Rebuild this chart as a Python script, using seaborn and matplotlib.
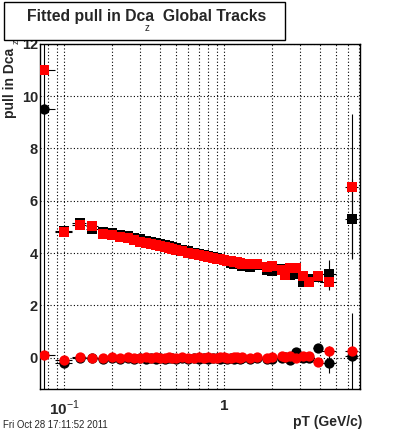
import numpy as np
import pandas as pd
import matplotlib
matplotlib.use("Agg")
import matplotlib.pyplot as plt
import seaborn as sns
from matplotlib.patches import Rectangle
from matplotlib.ticker import FixedLocator, NullFormatter, MultipleLocator, LogLocator

# pT bin centres and half widths
pt = [0.075, 0.1, 0.125, 0.15,
      0.175, 0.2, 0.225, 0.25, 0.275, 0.3, 0.325, 0.35, 0.375, 0.4, 0.425, 0.45, 0.475, 0.5,
      0.55, 0.6, 0.65, 0.7, 0.75, 0.8, 0.85, 0.9, 0.95, 1.0, 1.05, 1.1, 1.15, 1.2, 1.25,
      1.3, 1.45, 1.6, 1.85, 2.0, 2.3, 2.4, 2.6, 2.8, 3.1, 3.4, 3.85, 4.5, 6.3]
pt_err = [0.0125, 0.0125, 0.0125, 0.0125,
          0.0125, 0.0125, 0.0125, 0.0125, 0.0125, 0.0125, 0.0125, 0.0125, 0.0125, 0.0125, 0.0125, 0.0125, 0.0125, 0.0125,
          0.025, 0.025, 0.025, 0.025, 0.025, 0.025, 0.025, 0.025, 0.025, 0.025, 0.025, 0.025, 0.025, 0.025, 0.025,
          0.05, 0.075, 0.1, 0.1, 0.1, 0.1, 0.1, 0.1, 0.1, 0.15, 0.15, 0.25, 0.5, 0.6]

# sigma of the pull (squares)
sigma_black = [np.nan, 4.85, 5.15, 4.92,
               4.80, 4.76, 4.70, 4.64, 4.58, 4.53, 4.48, 4.44, 4.40, 4.35, 4.31, 4.27, 4.23, 4.19,
               4.13, 4.07, 4.02, 3.97, 3.93, 3.88, 3.85, 3.82, 3.78, 3.74, 3.68, 3.62, 3.60, 3.60, 3.60,
               3.50, 3.47, 3.55, 3.35, 3.30, 3.38, 3.30, 3.15, 3.20, 2.89, 3.00, 3.08, 3.20, 5.32]
sigma_black_err = [0.0, 0.05, 0.05, 0.05,
                   0.02, 0.02, 0.02, 0.02, 0.02, 0.02, 0.02, 0.02, 0.02, 0.02, 0.02, 0.02, 0.02, 0.02,
                   0.02, 0.02, 0.02, 0.02, 0.02, 0.02, 0.02, 0.02, 0.02, 0.02, 0.02, 0.02, 0.02, 0.02, 0.02,
                   0.05, 0.05, 0.05, 0.05, 0.05, 0.05, 0.08, 0.1, 0.1, 0.1, 0.15, 0.2, 0.55, 1.5]
sigma_red = [11.0, 4.80, 5.06, 5.02,
             4.74, 4.68, 4.62, 4.56, 4.50, 4.44, 4.40, 4.35, 4.31, 4.27, 4.23, 4.19, 4.15, 4.12,
             4.06, 4.01, 3.97, 3.93, 3.89, 3.85, 3.82, 3.79, 3.76, 3.73, 3.70, 3.68, 3.66, 3.64, 3.62,
             3.60, 3.57, 3.57, 3.47, 3.50, 3.35, 3.16, 3.44, 3.41, 3.12, 2.90, 3.12, 2.90, 6.54]
sigma_red_err = [14.0, 0.05, 0.05, 0.05,
                 0.02, 0.02, 0.02, 0.02, 0.02, 0.02, 0.02, 0.02, 0.02, 0.02, 0.02, 0.02, 0.02, 0.02,
                 0.02, 0.02, 0.02, 0.02, 0.02, 0.02, 0.02, 0.02, 0.02, 0.02, 0.02, 0.02, 0.02, 0.02, 0.02,
                 0.05, 0.05, 0.05, 0.05, 0.05, 0.05, 0.08, 0.1, 0.1, 0.1, 0.15, 0.2, 0.3, 2.76]

# mean of the pull (circles)
mean_black = [9.5, -0.19, 0.0, -0.02,
              -0.04, -0.02, -0.05, -0.03, -0.04, -0.02, -0.05, -0.03, -0.04, -0.02, -0.05, -0.03, -0.02, -0.04,
              -0.03, -0.05, -0.02, -0.04, -0.03, -0.05, -0.02, -0.03, -0.04, -0.02, -0.05, -0.03, -0.04, -0.02, -0.06,
              -0.03, -0.05, -0.02, -0.04, -0.06, -0.03, 0.02, -0.08, 0.20, -0.02, 0.0, 0.37, -0.20, 0.05]
mean_black_err = [0.0, 0.05, 0.03, 0.03,
                  0.02, 0.02, 0.02, 0.02, 0.02, 0.02, 0.02, 0.02, 0.02, 0.02, 0.02, 0.02, 0.02, 0.02,
                  0.02, 0.02, 0.02, 0.02, 0.02, 0.02, 0.02, 0.02, 0.02, 0.02, 0.02, 0.02, 0.02, 0.02, 0.02,
                  0.03, 0.03, 0.03, 0.03, 0.03, 0.05, 0.05, 0.05, 0.08, 0.1, 0.1, 0.15, 0.4, 0.3]
mean_red = [0.11, -0.08, 0.04, 0.0,
            0.0, 0.02, -0.01, 0.01, 0.0, -0.02, 0.01, 0.0, 0.02, -0.01, 0.0, 0.01, -0.02, 0.0,
            0.01, 0.0, -0.01, 0.02, 0.0, 0.01, -0.02, 0.0, 0.01, 0.02, 0.0, -0.01, 0.01, 0.03, 0.0,
            0.01, -0.01, 0.02, 0.0, 0.03, 0.05, 0.04, 0.06, 0.0, 0.05, 0.08, -0.16, 0.24, 0.24]
mean_red_err = [0.05, 0.05, 0.03, 0.03,
                0.02, 0.02, 0.02, 0.02, 0.02, 0.02, 0.02, 0.02, 0.02, 0.02, 0.02, 0.02, 0.02, 0.02,
                0.02, 0.02, 0.02, 0.02, 0.02, 0.02, 0.02, 0.02, 0.02, 0.02, 0.02, 0.02, 0.02, 0.02, 0.02,
                0.03, 0.03, 0.03, 0.03, 0.03, 0.05, 0.05, 0.05, 0.08, 0.1, 0.1, 0.15, 0.2, 1.47]

df = pd.DataFrame({"pt": pt, "pt_err": pt_err,
                   "sigma_black": sigma_black, "sigma_black_err": sigma_black_err,
                   "sigma_red": sigma_red, "sigma_red_err": sigma_red_err,
                   "mean_black": mean_black, "mean_black_err": mean_black_err,
                   "mean_red": mean_red, "mean_red_err": mean_red_err})

sns.set_style("white")
plt.rcParams['font.family'] = ['Liberation Sans', 'DejaVu Sans']
plt.rcParams['mathtext.fontset'] = 'custom'
plt.rcParams['mathtext.rm'] = 'Liberation Sans'
plt.rcParams['mathtext.bf'] = 'Liberation Sans:bold'

fig = plt.figure(figsize=(4.0, 4.33), dpi=100)
fig.patch.set_facecolor("white")
ax = fig.add_axes([0.1, 0.1016, 0.8, 0.797])
ax.set_xscale("log")

# series: (column, marker, colour, size)
series = [("sigma_black", "s", "black", 48),
          ("sigma_red", "s", "#ff0000", 48),
          ("mean_black", "o", "black", 55),
          ("mean_red", "o", "#ff0000", 55)]
for col, mk, colr, size in series:
    d = df.dropna(subset=[col])
    ax.errorbar(d["pt"], d[col], xerr=d["pt_err"], yerr=d[col + "_err"],
                fmt="none", ecolor="black", elinewidth=0.8, capsize=0, zorder=2)
    sns.scatterplot(data=d, x="pt", y=col, marker=mk, color=colr, s=size,
                    linewidth=0, ax=ax, zorder=3, legend=False)

ax.set_xlim(0.0708, 7.08)
ax.set_ylim(-1.2, 12)

# axis ticks, ROOT-like
ax.xaxis.set_major_locator(FixedLocator([0.1, 1]))
ax.xaxis.set_minor_locator(LogLocator(base=10, subs=np.arange(2, 10)))
ax.xaxis.set_minor_formatter(NullFormatter())
ax.set_xticklabels([r"$\mathbf{10}^{-1}$", r"$\mathbf{1}$"], fontsize=11)
ax.yaxis.set_major_locator(MultipleLocator(2))
ax.yaxis.set_minor_locator(MultipleLocator(0.5))
for lab in ax.get_yticklabels():
    lab.set_fontweight("bold")
    lab.set_fontsize(10.5)
ax.tick_params(axis="both", which="major", direction="in", length=7, width=0.8, color="black")
ax.tick_params(axis="both", which="minor", direction="in", length=4, width=0.8, color="black")
ax.tick_params(axis="y", which="both", pad=1.5)
ax.tick_params(axis="x", which="both", pad=7)

ax.grid(axis="x", which="both", linestyle=(0, (1, 2)), color="black", linewidth=0.8)
ax.grid(axis="y", which="major", linestyle=(0, (1, 2)), color="black", linewidth=0.8)
ax.set_axisbelow(True)
for sp in ax.spines.values():
    sp.set_color("black")
    sp.set_linewidth(1.0)
ax.set_xlabel("")
ax.set_ylabel("")

# labels
fig.text(362 / 400, 1 - 422 / 433, "pT (GeV/c)", ha="right", va="center",
         fontsize=10, fontweight="bold")
fig.text(10 / 400, 1 - 48 / 433, "pull in Dca", rotation=90, ha="center", va="top",
         fontsize=10, fontweight="bold")
fig.text(16 / 400, 1 - 42 / 433, "z", rotation=90, ha="center", va="center", fontsize=6.5)

# title box
fig.patches.append(Rectangle((4 / 400, 1 - 40 / 433), 281 / 400, 38 / 433,
                             transform=fig.transFigure, facecolor="white",
                             edgecolor="black", linewidth=1.0))
fig.text(27 / 400, 1 - 17 / 433, "Fitted pull in Dca  Global Tracks", ha="left",
         va="center", fontsize=11.3, fontweight="bold")
fig.text(147 / 400, 1 - 28 / 433, "z", ha="center", va="center", fontsize=7)

fig.text(3 / 400, 1 - 425 / 433, "Fri Oct 28 17:11:52 2011", ha="left", va="center",
         fontsize=6.9)

fig.savefig("out.png", dpi=100, facecolor="white")
